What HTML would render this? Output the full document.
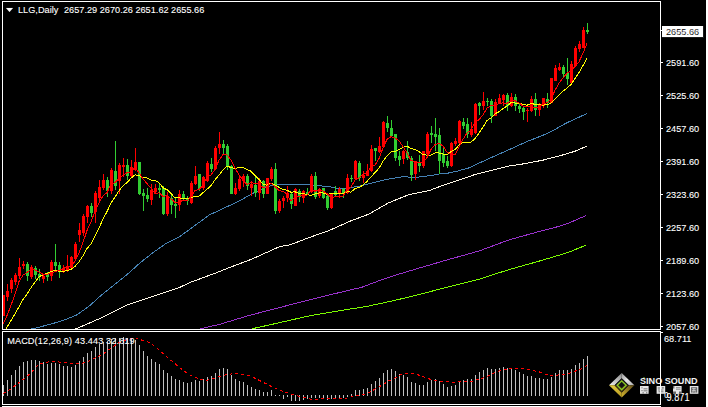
<!DOCTYPE html>
<html><head><meta charset="utf-8"><style>
html,body{margin:0;padding:0;background:#000;width:708px;height:407px;overflow:hidden;position:relative}
</style></head><body>
<svg width="708" height="407" viewBox="0 0 708 407" style="position:absolute;left:0;top:0">
<defs><clipPath id="cm"><rect x="3" y="2" width="657" height="327"/></clipPath><clipPath id="cd"><rect x="3" y="332" width="657" height="72"/></clipPath></defs>
<rect x="0" y="0" width="708" height="407" fill="#000"/>
<g clip-path="url(#cm)" shape-rendering="crispEdges">
<polyline points="245.0,331.0 253.8,328.4 279.0,322.8 308.7,316.0 338.3,310.9 368.0,306.2 397.7,299.7 421.1,294.0 449.3,286.6 479.0,279.2 508.7,269.7 538.3,261.4 568.0,252.5 586.4,245.0" fill="none" stroke="#7cfc00" stroke-width="1" />
<polyline points="195.0,331.0 201.9,328.4 219.7,324.3 249.3,315.4 279.0,307.7 308.7,300.0 338.3,292.8 362.0,287.2 379.9,280.4 397.7,274.5 419.7,267.9 449.3,259.3 479.0,251.0 508.7,240.0 538.3,231.7 552.3,228.3 568.0,223.4 586.4,215.4" fill="none" stroke="#9932cc" stroke-width="1" />
<polyline points="70.0,331.0 76.3,328.7 101.7,317.7 114.4,311.4 127.1,305.0 139.8,300.7 152.6,296.6 165.3,292.3 180.0,287.2 190.0,282.5 219.7,271.5 228.8,267.8 250.9,259.5 279.7,246.6 290.0,244.9 309.8,237.3 329.5,230.4 349.3,221.5 369.1,214.0 388.9,202.7 408.6,194.8 430.0,190.3 440.0,186.4 457.2,180.7 474.4,174.7 491.5,170.4 508.7,166.1 525.9,163.5 543.1,160.1 559.9,155.8 574.6,151.4 586.6,146.2" fill="none" stroke="#fff8e8" stroke-width="1" />
<polyline points="20.0,331.0 33.0,328.7 50.9,324.1 63.6,320.3 76.3,315.2 89.0,306.3 101.7,294.8 114.4,284.7 127.1,274.5 139.8,263.1 152.6,252.9 165.3,244.0 180.0,236.4 209.3,215.0 239.0,201.1 253.8,192.8 268.7,186.3 277.6,184.5 298.3,184.4 310.0,184.3 311.0,185.3 321.0,185.5 323.0,186.4 330.0,186.6 332.0,187.6 334.0,187.7 336.0,188.6 342.0,188.5 350.0,187.5 359.2,186.3 373.5,182.7 387.7,179.2 402.0,176.8 416.2,177.3 430.5,175.6 440.0,173.8 448.6,173.0 457.2,171.2 469.2,167.8 474.4,165.2 491.5,157.5 508.7,149.8 525.9,142.0 543.1,135.2 552.5,130.9 566.4,123.0 586.6,113.7" fill="none" stroke="#4682b4" stroke-width="1" />
<rect x="3" y="295" width="1" height="21" fill="#ff0000"/>
<rect x="2" y="295" width="3" height="21" fill="#ff0000"/>
<rect x="7" y="284" width="1" height="17" fill="#ff0000"/>
<rect x="6" y="291" width="3" height="6" fill="#ff0000"/>
<rect x="11" y="278" width="1" height="15" fill="#ff0000"/>
<rect x="10" y="280" width="3" height="9" fill="#ff0000"/>
<rect x="15" y="273" width="1" height="12" fill="#ff0000"/>
<rect x="14" y="275" width="3" height="7" fill="#ff0000"/>
<rect x="19" y="258" width="1" height="21" fill="#ff0000"/>
<rect x="18" y="267" width="3" height="9" fill="#ff0000"/>
<rect x="23" y="261" width="1" height="8" fill="#ff0000"/>
<rect x="22" y="264" width="3" height="2" fill="#ff0000"/>
<rect x="27" y="262" width="1" height="19" fill="#32cd32"/>
<rect x="26" y="264" width="3" height="12" fill="#32cd32"/>
<rect x="31" y="265" width="1" height="14" fill="#ff0000"/>
<rect x="30" y="267" width="3" height="10" fill="#ff0000"/>
<rect x="35" y="266" width="1" height="13" fill="#32cd32"/>
<rect x="34" y="268" width="3" height="7" fill="#32cd32"/>
<rect x="39" y="269" width="1" height="12" fill="#32cd32"/>
<rect x="38" y="274" width="3" height="3" fill="#32cd32"/>
<rect x="43" y="274" width="1" height="9" fill="#ff0000"/>
<rect x="42" y="276" width="3" height="3" fill="#ff0000"/>
<rect x="47" y="272" width="1" height="9" fill="#32cd32"/>
<rect x="46" y="274" width="3" height="3" fill="#32cd32"/>
<rect x="51" y="260" width="1" height="21" fill="#ff0000"/>
<rect x="50" y="262" width="3" height="14" fill="#ff0000"/>
<rect x="55" y="244" width="1" height="28" fill="#32cd32"/>
<rect x="54" y="262" width="3" height="4" fill="#32cd32"/>
<rect x="59" y="262" width="1" height="16" fill="#32cd32"/>
<rect x="58" y="265" width="3" height="7" fill="#32cd32"/>
<rect x="63" y="265" width="1" height="8" fill="#ff0000"/>
<rect x="62" y="268" width="3" height="3" fill="#ff0000"/>
<rect x="67" y="255" width="1" height="17" fill="#ff0000"/>
<rect x="66" y="266" width="3" height="5" fill="#ff0000"/>
<rect x="71" y="256" width="1" height="13" fill="#ff0000"/>
<rect x="70" y="257" width="3" height="11" fill="#ff0000"/>
<rect x="75" y="242" width="1" height="18" fill="#ff0000"/>
<rect x="74" y="244" width="3" height="15" fill="#ff0000"/>
<rect x="79" y="223" width="1" height="19" fill="#ff0000"/>
<rect x="78" y="230" width="3" height="5" fill="#ff0000"/>
<rect x="83" y="214" width="1" height="22" fill="#ff0000"/>
<rect x="82" y="216" width="3" height="17" fill="#ff0000"/>
<rect x="87" y="205" width="1" height="18" fill="#ff0000"/>
<rect x="86" y="206" width="3" height="11" fill="#ff0000"/>
<rect x="91" y="203" width="1" height="14" fill="#32cd32"/>
<rect x="90" y="206" width="3" height="7" fill="#32cd32"/>
<rect x="95" y="191" width="1" height="32" fill="#ff0000"/>
<rect x="94" y="193" width="3" height="19" fill="#ff0000"/>
<rect x="99" y="180" width="1" height="21" fill="#ff0000"/>
<rect x="98" y="187" width="3" height="11" fill="#ff0000"/>
<rect x="103" y="174" width="1" height="16" fill="#ff0000"/>
<rect x="102" y="180" width="3" height="8" fill="#ff0000"/>
<rect x="107" y="177" width="1" height="20" fill="#32cd32"/>
<rect x="106" y="180" width="3" height="11" fill="#32cd32"/>
<rect x="111" y="168" width="1" height="26" fill="#ff0000"/>
<rect x="110" y="170" width="3" height="21" fill="#ff0000"/>
<rect x="115" y="141" width="1" height="49" fill="#32cd32"/>
<rect x="114" y="171" width="3" height="15" fill="#32cd32"/>
<rect x="119" y="163" width="1" height="31" fill="#ff0000"/>
<rect x="118" y="165" width="3" height="16" fill="#ff0000"/>
<rect x="123" y="158" width="1" height="19" fill="#ff0000"/>
<rect x="122" y="165" width="3" height="2" fill="#ff0000"/>
<rect x="127" y="159" width="1" height="21" fill="#32cd32"/>
<rect x="126" y="165" width="3" height="11" fill="#32cd32"/>
<rect x="131" y="160" width="1" height="18" fill="#ff0000"/>
<rect x="130" y="167" width="3" height="9" fill="#ff0000"/>
<rect x="135" y="148" width="1" height="23" fill="#ff0000"/>
<rect x="134" y="162" width="3" height="8" fill="#ff0000"/>
<rect x="139" y="162" width="1" height="33" fill="#32cd32"/>
<rect x="138" y="162" width="3" height="32" fill="#32cd32"/>
<rect x="143" y="189" width="1" height="22" fill="#32cd32"/>
<rect x="142" y="193" width="3" height="3" fill="#32cd32"/>
<rect x="147" y="188" width="1" height="14" fill="#32cd32"/>
<rect x="146" y="195" width="3" height="4" fill="#32cd32"/>
<rect x="151" y="184" width="1" height="21" fill="#ff0000"/>
<rect x="150" y="190" width="3" height="10" fill="#ff0000"/>
<rect x="155" y="184" width="1" height="10" fill="#ff0000"/>
<rect x="154" y="188" width="3" height="4" fill="#ff0000"/>
<rect x="159" y="183" width="1" height="15" fill="#32cd32"/>
<rect x="158" y="188" width="3" height="2" fill="#32cd32"/>
<rect x="163" y="186" width="1" height="29" fill="#32cd32"/>
<rect x="162" y="188" width="3" height="26" fill="#32cd32"/>
<rect x="167" y="192" width="1" height="24" fill="#ff0000"/>
<rect x="166" y="196" width="3" height="18" fill="#ff0000"/>
<rect x="171" y="194" width="1" height="20" fill="#32cd32"/>
<rect x="170" y="198" width="3" height="7" fill="#32cd32"/>
<rect x="175" y="198" width="1" height="20" fill="#32cd32"/>
<rect x="174" y="204" width="3" height="2" fill="#32cd32"/>
<rect x="179" y="190" width="1" height="21" fill="#ff0000"/>
<rect x="178" y="194" width="3" height="11" fill="#ff0000"/>
<rect x="183" y="191" width="1" height="10" fill="#32cd32"/>
<rect x="182" y="194" width="3" height="5" fill="#32cd32"/>
<rect x="187" y="196" width="1" height="9" fill="#32cd32"/>
<rect x="186" y="198" width="3" height="3" fill="#32cd32"/>
<rect x="191" y="181" width="1" height="23" fill="#ff0000"/>
<rect x="190" y="183" width="3" height="20" fill="#ff0000"/>
<rect x="195" y="166" width="1" height="19" fill="#ff0000"/>
<rect x="194" y="176" width="3" height="8" fill="#ff0000"/>
<rect x="199" y="174" width="1" height="17" fill="#32cd32"/>
<rect x="198" y="174" width="3" height="15" fill="#32cd32"/>
<rect x="203" y="176" width="1" height="14" fill="#ff0000"/>
<rect x="202" y="177" width="3" height="11" fill="#ff0000"/>
<rect x="207" y="161" width="1" height="21" fill="#ff0000"/>
<rect x="206" y="163" width="3" height="18" fill="#ff0000"/>
<rect x="211" y="158" width="1" height="14" fill="#32cd32"/>
<rect x="210" y="164" width="3" height="5" fill="#32cd32"/>
<rect x="215" y="146" width="1" height="24" fill="#ff0000"/>
<rect x="214" y="148" width="3" height="21" fill="#ff0000"/>
<rect x="219" y="132" width="1" height="22" fill="#ff0000"/>
<rect x="218" y="144" width="3" height="4" fill="#ff0000"/>
<rect x="223" y="140" width="1" height="14" fill="#32cd32"/>
<rect x="222" y="144" width="3" height="4" fill="#32cd32"/>
<rect x="227" y="144" width="1" height="26" fill="#32cd32"/>
<rect x="226" y="146" width="3" height="20" fill="#32cd32"/>
<rect x="231" y="165" width="1" height="29" fill="#32cd32"/>
<rect x="230" y="166" width="3" height="28" fill="#32cd32"/>
<rect x="235" y="183" width="1" height="12" fill="#ff0000"/>
<rect x="234" y="188" width="3" height="6" fill="#ff0000"/>
<rect x="239" y="176" width="1" height="15" fill="#ff0000"/>
<rect x="238" y="179" width="3" height="10" fill="#ff0000"/>
<rect x="243" y="174" width="1" height="13" fill="#ff0000"/>
<rect x="242" y="176" width="3" height="5" fill="#ff0000"/>
<rect x="247" y="174" width="1" height="16" fill="#32cd32"/>
<rect x="246" y="176" width="3" height="10" fill="#32cd32"/>
<rect x="251" y="181" width="1" height="15" fill="#ff0000"/>
<rect x="250" y="184" width="3" height="4" fill="#ff0000"/>
<rect x="255" y="177" width="1" height="20" fill="#32cd32"/>
<rect x="254" y="185" width="3" height="8" fill="#32cd32"/>
<rect x="259" y="178" width="1" height="22" fill="#ff0000"/>
<rect x="258" y="181" width="3" height="12" fill="#ff0000"/>
<rect x="263" y="180" width="1" height="18" fill="#32cd32"/>
<rect x="262" y="181" width="3" height="13" fill="#32cd32"/>
<rect x="267" y="178" width="1" height="16" fill="#ff0000"/>
<rect x="266" y="178" width="3" height="16" fill="#ff0000"/>
<rect x="271" y="167" width="1" height="14" fill="#ff0000"/>
<rect x="270" y="169" width="3" height="10" fill="#ff0000"/>
<rect x="275" y="163" width="1" height="51" fill="#32cd32"/>
<rect x="274" y="169" width="3" height="42" fill="#32cd32"/>
<rect x="279" y="199" width="1" height="14" fill="#ff0000"/>
<rect x="278" y="201" width="3" height="10" fill="#ff0000"/>
<rect x="283" y="196" width="1" height="12" fill="#ff0000"/>
<rect x="282" y="198" width="3" height="3" fill="#ff0000"/>
<rect x="287" y="186" width="1" height="16" fill="#ff0000"/>
<rect x="286" y="193" width="3" height="5" fill="#ff0000"/>
<rect x="291" y="192" width="1" height="17" fill="#32cd32"/>
<rect x="290" y="194" width="3" height="10" fill="#32cd32"/>
<rect x="295" y="188" width="1" height="18" fill="#ff0000"/>
<rect x="294" y="189" width="3" height="17" fill="#ff0000"/>
<rect x="299" y="189" width="1" height="13" fill="#32cd32"/>
<rect x="298" y="191" width="3" height="6" fill="#32cd32"/>
<rect x="303" y="190" width="1" height="13" fill="#ff0000"/>
<rect x="302" y="191" width="3" height="7" fill="#ff0000"/>
<rect x="307" y="188" width="1" height="7" fill="#32cd32"/>
<rect x="306" y="192" width="3" height="2" fill="#32cd32"/>
<rect x="311" y="174" width="1" height="19" fill="#ff0000"/>
<rect x="310" y="176" width="3" height="16" fill="#ff0000"/>
<rect x="315" y="172" width="1" height="27" fill="#32cd32"/>
<rect x="314" y="176" width="3" height="21" fill="#32cd32"/>
<rect x="319" y="188" width="1" height="10" fill="#ff0000"/>
<rect x="318" y="189" width="3" height="7" fill="#ff0000"/>
<rect x="323" y="188" width="1" height="11" fill="#32cd32"/>
<rect x="322" y="188" width="3" height="10" fill="#32cd32"/>
<rect x="327" y="195" width="1" height="15" fill="#32cd32"/>
<rect x="326" y="196" width="3" height="12" fill="#32cd32"/>
<rect x="331" y="194" width="1" height="15" fill="#ff0000"/>
<rect x="330" y="194" width="3" height="14" fill="#ff0000"/>
<rect x="335" y="186" width="1" height="10" fill="#32cd32"/>
<rect x="334" y="191" width="3" height="4" fill="#32cd32"/>
<rect x="339" y="187" width="1" height="11" fill="#ff0000"/>
<rect x="338" y="189" width="3" height="5" fill="#ff0000"/>
<rect x="343" y="188" width="1" height="10" fill="#32cd32"/>
<rect x="342" y="189" width="3" height="5" fill="#32cd32"/>
<rect x="347" y="174" width="1" height="20" fill="#ff0000"/>
<rect x="346" y="178" width="3" height="15" fill="#ff0000"/>
<rect x="351" y="175" width="1" height="7" fill="#32cd32"/>
<rect x="350" y="178" width="3" height="1" fill="#32cd32"/>
<rect x="355" y="160" width="1" height="20" fill="#ff0000"/>
<rect x="354" y="161" width="3" height="18" fill="#ff0000"/>
<rect x="359" y="161" width="1" height="20" fill="#32cd32"/>
<rect x="358" y="163" width="3" height="15" fill="#32cd32"/>
<rect x="363" y="171" width="1" height="12" fill="#ff0000"/>
<rect x="362" y="175" width="3" height="3" fill="#ff0000"/>
<rect x="367" y="164" width="1" height="12" fill="#ff0000"/>
<rect x="366" y="171" width="3" height="5" fill="#ff0000"/>
<rect x="371" y="145" width="1" height="27" fill="#ff0000"/>
<rect x="370" y="149" width="3" height="22" fill="#ff0000"/>
<rect x="375" y="148" width="1" height="13" fill="#32cd32"/>
<rect x="374" y="148" width="3" height="3" fill="#32cd32"/>
<rect x="379" y="137" width="1" height="16" fill="#ff0000"/>
<rect x="378" y="146" width="3" height="6" fill="#ff0000"/>
<rect x="383" y="121" width="1" height="27" fill="#ff0000"/>
<rect x="382" y="122" width="3" height="25" fill="#ff0000"/>
<rect x="387" y="116" width="1" height="16" fill="#32cd32"/>
<rect x="386" y="123" width="3" height="5" fill="#32cd32"/>
<rect x="391" y="120" width="1" height="17" fill="#32cd32"/>
<rect x="390" y="128" width="3" height="8" fill="#32cd32"/>
<rect x="395" y="134" width="1" height="27" fill="#32cd32"/>
<rect x="394" y="134" width="3" height="24" fill="#32cd32"/>
<rect x="399" y="151" width="1" height="15" fill="#32cd32"/>
<rect x="398" y="156" width="3" height="4" fill="#32cd32"/>
<rect x="403" y="150" width="1" height="14" fill="#ff0000"/>
<rect x="402" y="151" width="3" height="8" fill="#ff0000"/>
<rect x="407" y="141" width="1" height="19" fill="#32cd32"/>
<rect x="406" y="152" width="3" height="6" fill="#32cd32"/>
<rect x="411" y="156" width="1" height="25" fill="#32cd32"/>
<rect x="410" y="158" width="3" height="17" fill="#32cd32"/>
<rect x="415" y="161" width="1" height="19" fill="#ff0000"/>
<rect x="414" y="162" width="3" height="12" fill="#ff0000"/>
<rect x="419" y="155" width="1" height="17" fill="#32cd32"/>
<rect x="418" y="163" width="3" height="3" fill="#32cd32"/>
<rect x="423" y="151" width="1" height="17" fill="#ff0000"/>
<rect x="422" y="151" width="3" height="15" fill="#ff0000"/>
<rect x="427" y="132" width="1" height="26" fill="#ff0000"/>
<rect x="426" y="134" width="3" height="20" fill="#ff0000"/>
<rect x="431" y="126" width="1" height="17" fill="#32cd32"/>
<rect x="430" y="133" width="3" height="2" fill="#32cd32"/>
<rect x="435" y="118" width="1" height="33" fill="#32cd32"/>
<rect x="434" y="134" width="3" height="3" fill="#32cd32"/>
<rect x="439" y="128" width="1" height="46" fill="#32cd32"/>
<rect x="438" y="135" width="3" height="26" fill="#32cd32"/>
<rect x="443" y="148" width="1" height="19" fill="#32cd32"/>
<rect x="442" y="154" width="3" height="9" fill="#32cd32"/>
<rect x="447" y="156" width="1" height="12" fill="#32cd32"/>
<rect x="446" y="161" width="3" height="5" fill="#32cd32"/>
<rect x="451" y="142" width="1" height="25" fill="#ff0000"/>
<rect x="450" y="143" width="3" height="23" fill="#ff0000"/>
<rect x="455" y="138" width="1" height="8" fill="#ff0000"/>
<rect x="454" y="141" width="3" height="3" fill="#ff0000"/>
<rect x="459" y="120" width="1" height="24" fill="#ff0000"/>
<rect x="458" y="121" width="3" height="22" fill="#ff0000"/>
<rect x="463" y="118" width="1" height="11" fill="#32cd32"/>
<rect x="462" y="122" width="3" height="4" fill="#32cd32"/>
<rect x="467" y="118" width="1" height="20" fill="#32cd32"/>
<rect x="466" y="124" width="3" height="10" fill="#32cd32"/>
<rect x="471" y="122" width="1" height="15" fill="#ff0000"/>
<rect x="470" y="129" width="3" height="6" fill="#ff0000"/>
<rect x="475" y="103" width="1" height="31" fill="#ff0000"/>
<rect x="474" y="104" width="3" height="29" fill="#ff0000"/>
<rect x="479" y="102" width="1" height="13" fill="#32cd32"/>
<rect x="478" y="103" width="3" height="3" fill="#32cd32"/>
<rect x="483" y="92" width="1" height="18" fill="#ff0000"/>
<rect x="482" y="101" width="3" height="5" fill="#ff0000"/>
<rect x="487" y="98" width="1" height="8" fill="#32cd32"/>
<rect x="486" y="101" width="3" height="1" fill="#32cd32"/>
<rect x="491" y="99" width="1" height="24" fill="#32cd32"/>
<rect x="490" y="101" width="3" height="15" fill="#32cd32"/>
<rect x="495" y="99" width="1" height="17" fill="#ff0000"/>
<rect x="494" y="102" width="3" height="14" fill="#ff0000"/>
<rect x="499" y="94" width="1" height="10" fill="#ff0000"/>
<rect x="498" y="98" width="3" height="5" fill="#ff0000"/>
<rect x="503" y="94" width="1" height="12" fill="#ff0000"/>
<rect x="502" y="95" width="3" height="5" fill="#ff0000"/>
<rect x="507" y="93" width="1" height="18" fill="#32cd32"/>
<rect x="506" y="95" width="3" height="11" fill="#32cd32"/>
<rect x="511" y="93" width="1" height="14" fill="#ff0000"/>
<rect x="510" y="97" width="3" height="9" fill="#ff0000"/>
<rect x="515" y="94" width="1" height="17" fill="#32cd32"/>
<rect x="514" y="97" width="3" height="9" fill="#32cd32"/>
<rect x="519" y="104" width="1" height="9" fill="#32cd32"/>
<rect x="518" y="106" width="3" height="3" fill="#32cd32"/>
<rect x="523" y="107" width="1" height="13" fill="#32cd32"/>
<rect x="522" y="108" width="3" height="4" fill="#32cd32"/>
<rect x="527" y="108" width="1" height="14" fill="#ff0000"/>
<rect x="526" y="110" width="3" height="1" fill="#ff0000"/>
<rect x="531" y="96" width="1" height="16" fill="#ff0000"/>
<rect x="530" y="99" width="3" height="12" fill="#ff0000"/>
<rect x="535" y="93" width="1" height="23" fill="#32cd32"/>
<rect x="534" y="99" width="3" height="11" fill="#32cd32"/>
<rect x="539" y="103" width="1" height="13" fill="#ff0000"/>
<rect x="538" y="104" width="3" height="6" fill="#ff0000"/>
<rect x="543" y="98" width="1" height="10" fill="#ff0000"/>
<rect x="542" y="98" width="3" height="8" fill="#ff0000"/>
<rect x="547" y="93" width="1" height="15" fill="#32cd32"/>
<rect x="546" y="99" width="3" height="4" fill="#32cd32"/>
<rect x="551" y="78" width="1" height="25" fill="#ff0000"/>
<rect x="550" y="78" width="3" height="25" fill="#ff0000"/>
<rect x="555" y="65" width="1" height="16" fill="#ff0000"/>
<rect x="554" y="68" width="3" height="13" fill="#ff0000"/>
<rect x="559" y="63" width="1" height="8" fill="#ff0000"/>
<rect x="558" y="67" width="3" height="3" fill="#ff0000"/>
<rect x="563" y="65" width="1" height="13" fill="#32cd32"/>
<rect x="562" y="67" width="3" height="7" fill="#32cd32"/>
<rect x="567" y="58" width="1" height="27" fill="#32cd32"/>
<rect x="566" y="73" width="3" height="6" fill="#32cd32"/>
<rect x="571" y="61" width="1" height="23" fill="#ff0000"/>
<rect x="570" y="64" width="3" height="19" fill="#ff0000"/>
<rect x="575" y="46" width="1" height="21" fill="#ff0000"/>
<rect x="574" y="48" width="3" height="18" fill="#ff0000"/>
<rect x="579" y="41" width="1" height="11" fill="#ff0000"/>
<rect x="578" y="44" width="3" height="5" fill="#ff0000"/>
<rect x="583" y="27" width="1" height="21" fill="#ff0000"/>
<rect x="582" y="30" width="3" height="18" fill="#ff0000"/>
<rect x="587" y="23" width="1" height="11" fill="#32cd32"/>
<rect x="586" y="30" width="3" height="2" fill="#32cd32"/>
<polyline points="3.0,333.2 7.0,327.2 11.0,320.5 15.0,313.8 19.0,306.7 23.0,299.6 27.0,294.0 31.0,287.7 35.0,282.1 39.0,276.7 43.0,274.8 47.0,273.4 51.0,271.6 55.0,270.6 59.0,271.1 63.0,271.6 67.0,270.5 71.0,269.5 75.0,266.4 79.0,261.7 83.0,255.7 87.0,248.6 91.0,243.7 95.0,236.4 99.0,227.9 103.0,219.1 107.0,211.6 111.0,202.9 115.0,197.1 119.0,190.7 123.0,185.7 127.0,182.7 131.0,178.1 135.0,174.9 139.0,175.6 143.0,177.3 147.0,178.1 151.0,180.1 155.0,180.3 159.0,182.8 163.0,187.7 167.0,189.7 171.0,193.5 175.0,197.9 179.0,197.9 183.0,198.2 187.0,198.4 191.0,197.7 195.0,196.4 199.0,196.3 203.0,192.6 207.0,189.3 211.0,185.7 215.0,179.9 219.0,175.0 223.0,169.9 227.0,166.3 231.0,167.4 235.0,168.6 239.0,167.6 243.0,167.5 247.0,169.7 251.0,171.2 255.0,175.7 259.0,179.4 263.0,184.0 267.0,185.3 271.0,182.8 275.0,185.1 279.0,187.3 283.0,189.5 287.0,190.2 291.0,192.2 295.0,191.8 299.0,193.4 303.0,193.1 307.0,194.7 311.0,195.4 315.0,194.0 319.0,192.9 323.0,192.9 327.0,194.5 331.0,193.5 335.0,194.0 339.0,193.3 343.0,193.5 347.0,191.8 351.0,192.1 355.0,188.5 359.0,187.4 363.0,185.1 367.0,181.4 371.0,176.9 375.0,172.6 379.0,168.2 383.0,161.1 387.0,156.1 391.0,151.8 395.0,151.5 399.0,149.6 403.0,147.3 407.0,146.0 411.0,148.6 415.0,149.6 419.0,151.6 423.0,154.6 427.0,155.1 431.0,155.0 435.0,152.9 439.0,153.0 443.0,154.1 447.0,154.9 451.0,151.7 455.0,149.6 459.0,145.1 463.0,142.6 467.0,142.6 471.0,142.1 475.0,138.7 479.0,133.2 483.0,127.0 487.0,120.6 491.0,117.8 495.0,113.9 499.0,111.7 503.0,108.7 507.0,105.9 511.0,102.7 515.0,103.0 519.0,103.3 523.0,104.4 527.0,105.2 531.0,103.5 535.0,104.3 539.0,104.8 543.0,105.1 547.0,104.8 551.0,102.9 555.0,99.1 559.0,94.9 563.0,91.1 567.0,88.0 571.0,84.5 575.0,78.4 579.0,72.4 583.0,65.5 587.0,58.4" fill="none" stroke="#ffff00" stroke-width="1" />
<polyline points="-17.0,342.6 -13.0,338.8 -9.0,335.6 -5.0,333.3 -1.0,331.9 3.0,323.9 7.0,315.6 11.0,305.4 15.0,294.3 19.0,281.5 23.0,275.2 27.0,272.4 31.0,269.9 35.0,269.9 39.0,271.9 43.0,274.3 47.0,274.4 51.0,273.3 55.0,271.4 59.0,270.4 63.0,268.9 67.0,266.6 71.0,265.7 75.0,261.3 79.0,252.9 83.0,242.4 87.0,230.6 91.0,221.7 95.0,211.5 99.0,202.9 103.0,195.8 107.0,192.7 111.0,184.1 115.0,182.8 119.0,178.4 123.0,175.5 127.0,172.6 131.0,172.0 135.0,167.1 139.0,172.8 143.0,179.0 147.0,183.6 151.0,188.2 155.0,193.5 159.0,192.8 163.0,196.3 167.0,195.7 171.0,198.8 175.0,202.3 179.0,203.0 183.0,200.0 187.0,201.0 191.0,196.5 195.0,190.5 199.0,189.6 203.0,185.2 207.0,177.6 211.0,174.9 215.0,169.3 219.0,160.3 223.0,154.6 227.0,155.0 231.0,159.9 235.0,167.9 239.0,174.9 243.0,180.4 247.0,184.4 251.0,182.5 255.0,183.5 259.0,183.9 263.0,187.6 267.0,186.2 271.0,183.2 275.0,186.7 279.0,190.6 283.0,191.3 287.0,194.1 291.0,201.2 295.0,196.9 299.0,196.2 303.0,194.9 307.0,195.2 311.0,189.6 315.0,191.2 319.0,189.6 323.0,190.9 327.0,193.7 331.0,197.3 335.0,196.9 339.0,196.9 343.0,196.0 347.0,189.9 351.0,186.9 355.0,180.1 359.0,177.9 363.0,174.2 367.0,172.9 371.0,166.9 375.0,165.1 379.0,158.5 383.0,147.9 387.0,139.4 391.0,136.6 395.0,137.9 399.0,140.8 403.0,146.7 407.0,152.7 411.0,160.5 415.0,161.4 419.0,162.5 423.0,162.5 427.0,157.5 431.0,149.5 435.0,144.5 439.0,143.5 443.0,145.8 447.0,152.3 451.0,153.9 455.0,154.8 459.0,146.8 463.0,139.3 467.0,132.9 471.0,130.2 475.0,122.6 479.0,119.7 483.0,114.7 487.0,108.2 491.0,105.5 495.0,105.2 499.0,103.7 503.0,102.7 507.0,103.6 511.0,99.9 515.0,100.8 519.0,102.9 523.0,106.2 527.0,106.8 531.0,107.1 535.0,107.8 539.0,106.8 543.0,104.1 547.0,102.8 551.0,98.7 555.0,90.4 559.0,83.0 563.0,78.0 567.0,73.2 571.0,70.4 575.0,66.3 579.0,61.8 583.0,53.1 587.0,43.6" fill="none" stroke="#ff0000" stroke-width="1" />
</g>
<g clip-path="url(#cd)" shape-rendering="crispEdges">
<rect x="3" y="385" width="1" height="11" fill="#c0c0c0"/>
<rect x="7" y="380" width="1" height="16" fill="#c0c0c0"/>
<rect x="11" y="375" width="1" height="21" fill="#c0c0c0"/>
<rect x="15" y="370" width="1" height="26" fill="#c0c0c0"/>
<rect x="19" y="366" width="1" height="30" fill="#c0c0c0"/>
<rect x="23" y="362" width="1" height="34" fill="#c0c0c0"/>
<rect x="27" y="361" width="1" height="35" fill="#c0c0c0"/>
<rect x="31" y="360" width="1" height="36" fill="#c0c0c0"/>
<rect x="35" y="360" width="1" height="36" fill="#c0c0c0"/>
<rect x="39" y="361" width="1" height="35" fill="#c0c0c0"/>
<rect x="43" y="362" width="1" height="34" fill="#c0c0c0"/>
<rect x="47" y="364" width="1" height="32" fill="#c0c0c0"/>
<rect x="51" y="363" width="1" height="33" fill="#c0c0c0"/>
<rect x="55" y="363" width="1" height="33" fill="#c0c0c0"/>
<rect x="59" y="364" width="1" height="32" fill="#c0c0c0"/>
<rect x="63" y="366" width="1" height="30" fill="#c0c0c0"/>
<rect x="67" y="366" width="1" height="30" fill="#c0c0c0"/>
<rect x="71" y="367" width="1" height="29" fill="#c0c0c0"/>
<rect x="75" y="365" width="1" height="31" fill="#c0c0c0"/>
<rect x="79" y="361" width="1" height="35" fill="#c0c0c0"/>
<rect x="83" y="357" width="1" height="39" fill="#c0c0c0"/>
<rect x="87" y="353" width="1" height="43" fill="#c0c0c0"/>
<rect x="91" y="351" width="1" height="45" fill="#c0c0c0"/>
<rect x="95" y="347" width="1" height="49" fill="#c0c0c0"/>
<rect x="99" y="344" width="1" height="52" fill="#c0c0c0"/>
<rect x="103" y="342" width="1" height="54" fill="#c0c0c0"/>
<rect x="107" y="341" width="1" height="55" fill="#c0c0c0"/>
<rect x="111" y="339" width="1" height="57" fill="#c0c0c0"/>
<rect x="115" y="338" width="1" height="58" fill="#c0c0c0"/>
<rect x="119" y="338" width="1" height="58" fill="#c0c0c0"/>
<rect x="123" y="337" width="1" height="59" fill="#c0c0c0"/>
<rect x="127" y="338" width="1" height="58" fill="#c0c0c0"/>
<rect x="131" y="338" width="1" height="58" fill="#c0c0c0"/>
<rect x="135" y="340" width="1" height="56" fill="#c0c0c0"/>
<rect x="139" y="345" width="1" height="51" fill="#c0c0c0"/>
<rect x="143" y="351" width="1" height="45" fill="#c0c0c0"/>
<rect x="147" y="356" width="1" height="40" fill="#c0c0c0"/>
<rect x="151" y="359" width="1" height="37" fill="#c0c0c0"/>
<rect x="155" y="362" width="1" height="34" fill="#c0c0c0"/>
<rect x="159" y="364" width="1" height="32" fill="#c0c0c0"/>
<rect x="163" y="370" width="1" height="26" fill="#c0c0c0"/>
<rect x="167" y="373" width="1" height="23" fill="#c0c0c0"/>
<rect x="171" y="376" width="1" height="20" fill="#c0c0c0"/>
<rect x="175" y="379" width="1" height="17" fill="#c0c0c0"/>
<rect x="179" y="380" width="1" height="16" fill="#c0c0c0"/>
<rect x="183" y="382" width="1" height="14" fill="#c0c0c0"/>
<rect x="187" y="383" width="1" height="13" fill="#c0c0c0"/>
<rect x="191" y="382" width="1" height="14" fill="#c0c0c0"/>
<rect x="195" y="380" width="1" height="16" fill="#c0c0c0"/>
<rect x="199" y="381" width="1" height="15" fill="#c0c0c0"/>
<rect x="203" y="379" width="1" height="17" fill="#c0c0c0"/>
<rect x="207" y="377" width="1" height="19" fill="#c0c0c0"/>
<rect x="211" y="376" width="1" height="20" fill="#c0c0c0"/>
<rect x="215" y="373" width="1" height="23" fill="#c0c0c0"/>
<rect x="219" y="369" width="1" height="27" fill="#c0c0c0"/>
<rect x="223" y="368" width="1" height="28" fill="#c0c0c0"/>
<rect x="227" y="369" width="1" height="27" fill="#c0c0c0"/>
<rect x="231" y="375" width="1" height="21" fill="#c0c0c0"/>
<rect x="235" y="379" width="1" height="17" fill="#c0c0c0"/>
<rect x="239" y="381" width="1" height="15" fill="#c0c0c0"/>
<rect x="243" y="382" width="1" height="14" fill="#c0c0c0"/>
<rect x="247" y="385" width="1" height="11" fill="#c0c0c0"/>
<rect x="251" y="387" width="1" height="9" fill="#c0c0c0"/>
<rect x="255" y="389" width="1" height="7" fill="#c0c0c0"/>
<rect x="259" y="390" width="1" height="6" fill="#c0c0c0"/>
<rect x="263" y="392" width="1" height="4" fill="#c0c0c0"/>
<rect x="267" y="392" width="1" height="4" fill="#c0c0c0"/>
<rect x="271" y="390" width="1" height="6" fill="#c0c0c0"/>
<rect x="275" y="395" width="1" height="1" fill="#c0c0c0"/>
<rect x="279" y="395" width="1" height="1" fill="#c0c0c0"/>
<rect x="283" y="395" width="1" height="4" fill="#c0c0c0"/>
<rect x="287" y="395" width="1" height="2" fill="#c0c0c0"/>
<rect x="291" y="395" width="1" height="6" fill="#c0c0c0"/>
<rect x="295" y="395" width="1" height="6" fill="#c0c0c0"/>
<rect x="299" y="395" width="1" height="6" fill="#c0c0c0"/>
<rect x="303" y="395" width="1" height="5" fill="#c0c0c0"/>
<rect x="307" y="395" width="1" height="4" fill="#c0c0c0"/>
<rect x="311" y="395" width="1" height="3" fill="#c0c0c0"/>
<rect x="315" y="395" width="1" height="3" fill="#c0c0c0"/>
<rect x="319" y="395" width="1" height="3" fill="#c0c0c0"/>
<rect x="323" y="395" width="1" height="3" fill="#c0c0c0"/>
<rect x="327" y="395" width="1" height="5" fill="#c0c0c0"/>
<rect x="331" y="395" width="1" height="4" fill="#c0c0c0"/>
<rect x="335" y="395" width="1" height="4" fill="#c0c0c0"/>
<rect x="339" y="395" width="1" height="4" fill="#c0c0c0"/>
<rect x="343" y="395" width="1" height="3" fill="#c0c0c0"/>
<rect x="347" y="395" width="1" height="2" fill="#c0c0c0"/>
<rect x="351" y="394" width="1" height="2" fill="#c0c0c0"/>
<rect x="355" y="390" width="1" height="6" fill="#c0c0c0"/>
<rect x="359" y="390" width="1" height="6" fill="#c0c0c0"/>
<rect x="363" y="389" width="1" height="7" fill="#c0c0c0"/>
<rect x="367" y="388" width="1" height="8" fill="#c0c0c0"/>
<rect x="371" y="384" width="1" height="12" fill="#c0c0c0"/>
<rect x="375" y="381" width="1" height="15" fill="#c0c0c0"/>
<rect x="379" y="378" width="1" height="18" fill="#c0c0c0"/>
<rect x="383" y="373" width="1" height="23" fill="#c0c0c0"/>
<rect x="387" y="370" width="1" height="26" fill="#c0c0c0"/>
<rect x="391" y="369" width="1" height="27" fill="#c0c0c0"/>
<rect x="395" y="371" width="1" height="25" fill="#c0c0c0"/>
<rect x="399" y="374" width="1" height="22" fill="#c0c0c0"/>
<rect x="403" y="375" width="1" height="21" fill="#c0c0c0"/>
<rect x="407" y="377" width="1" height="19" fill="#c0c0c0"/>
<rect x="411" y="382" width="1" height="14" fill="#c0c0c0"/>
<rect x="415" y="383" width="1" height="13" fill="#c0c0c0"/>
<rect x="419" y="385" width="1" height="11" fill="#c0c0c0"/>
<rect x="423" y="385" width="1" height="11" fill="#c0c0c0"/>
<rect x="427" y="382" width="1" height="14" fill="#c0c0c0"/>
<rect x="431" y="380" width="1" height="16" fill="#c0c0c0"/>
<rect x="435" y="379" width="1" height="17" fill="#c0c0c0"/>
<rect x="439" y="381" width="1" height="15" fill="#c0c0c0"/>
<rect x="443" y="384" width="1" height="12" fill="#c0c0c0"/>
<rect x="447" y="387" width="1" height="9" fill="#c0c0c0"/>
<rect x="451" y="386" width="1" height="10" fill="#c0c0c0"/>
<rect x="455" y="385" width="1" height="11" fill="#c0c0c0"/>
<rect x="459" y="382" width="1" height="14" fill="#c0c0c0"/>
<rect x="463" y="380" width="1" height="16" fill="#c0c0c0"/>
<rect x="467" y="379" width="1" height="17" fill="#c0c0c0"/>
<rect x="471" y="379" width="1" height="17" fill="#c0c0c0"/>
<rect x="475" y="375" width="1" height="21" fill="#c0c0c0"/>
<rect x="479" y="372" width="1" height="24" fill="#c0c0c0"/>
<rect x="483" y="370" width="1" height="26" fill="#c0c0c0"/>
<rect x="487" y="368" width="1" height="28" fill="#c0c0c0"/>
<rect x="491" y="369" width="1" height="27" fill="#c0c0c0"/>
<rect x="495" y="369" width="1" height="27" fill="#c0c0c0"/>
<rect x="499" y="368" width="1" height="28" fill="#c0c0c0"/>
<rect x="503" y="367" width="1" height="29" fill="#c0c0c0"/>
<rect x="507" y="368" width="1" height="28" fill="#c0c0c0"/>
<rect x="511" y="368" width="1" height="28" fill="#c0c0c0"/>
<rect x="515" y="370" width="1" height="26" fill="#c0c0c0"/>
<rect x="519" y="372" width="1" height="24" fill="#c0c0c0"/>
<rect x="523" y="374" width="1" height="22" fill="#c0c0c0"/>
<rect x="527" y="376" width="1" height="20" fill="#c0c0c0"/>
<rect x="531" y="376" width="1" height="20" fill="#c0c0c0"/>
<rect x="535" y="378" width="1" height="18" fill="#c0c0c0"/>
<rect x="539" y="378" width="1" height="18" fill="#c0c0c0"/>
<rect x="543" y="379" width="1" height="17" fill="#c0c0c0"/>
<rect x="547" y="379" width="1" height="17" fill="#c0c0c0"/>
<rect x="551" y="377" width="1" height="19" fill="#c0c0c0"/>
<rect x="555" y="373" width="1" height="23" fill="#c0c0c0"/>
<rect x="559" y="370" width="1" height="26" fill="#c0c0c0"/>
<rect x="563" y="370" width="1" height="26" fill="#c0c0c0"/>
<rect x="567" y="370" width="1" height="26" fill="#c0c0c0"/>
<rect x="571" y="369" width="1" height="27" fill="#c0c0c0"/>
<rect x="575" y="365" width="1" height="31" fill="#c0c0c0"/>
<rect x="579" y="363" width="1" height="33" fill="#c0c0c0"/>
<rect x="583" y="359" width="1" height="37" fill="#c0c0c0"/>
<rect x="587" y="356" width="1" height="40" fill="#c0c0c0"/>
<polyline points="3.0,393.6 10.3,389.3 17.2,384.1 24.0,379.0 30.9,373.0 37.8,365.2 44.7,362.1 55.0,361.8 65.3,362.3 72.2,363.5 82.5,363.2 89.3,360.9 96.2,357.5 103.1,354.0 110.0,348.9 118.6,342.9 127.0,339.5 135.6,338.2 149.4,342.4 159.7,350.3 166.5,356.6 173.4,362.3 183.7,370.9 190.6,375.5 200.9,379.5 207.8,380.2 214.7,378.1 225.0,375.0 234.9,373.3 243.7,374.3 250.6,376.0 257.5,379.5 264.4,382.9 273.4,387.5 280.2,390.3 286.1,392.5 292.9,394.6 298.8,396.3 304.7,397.5 310.7,399.2 317.5,399.2 327.6,398.5 334.4,398.3 341.2,398.3 347.1,398.0 352.2,396.6 358.1,395.4 363.2,394.6 370.0,392.0 375.9,388.6 381.9,385.3 388.6,381.0 393.0,379.0 399.8,375.0 406.7,373.3 415.3,373.8 422.2,376.4 430.8,379.5 441.1,381.2 453.1,382.1 460.0,381.9 468.6,381.2 472.7,381.2 478.7,379.0 485.6,377.3 490.8,374.7 497.6,371.2 506.2,369.5 514.8,368.1 523.4,368.1 530.3,370.0 538.9,371.8 545.8,374.3 552.6,376.0 559.5,374.7 568.1,373.8 575.0,371.2 581.0,368.9 587.2,365.1" fill="none" stroke="#ff0000" stroke-width="1" stroke-dasharray="3,3"/>
</g>
<g shape-rendering="crispEdges" fill="#fff">
<rect x="2" y="1" width="659" height="1"/>
<rect x="2" y="1" width="1" height="329"/>
<rect x="660" y="1" width="1" height="329"/>
<rect x="2" y="329" width="659" height="1"/>
<rect x="2" y="331" width="659" height="1"/>
<rect x="2" y="331" width="1" height="74"/>
<rect x="2" y="404" width="659" height="1"/>
<rect x="2" y="406" width="659" height="1"/>
<rect x="706" y="0" width="2" height="407"/>
<rect x="661" y="62" width="2" height="1"/>
<rect x="661" y="95" width="2" height="1"/>
<rect x="661" y="128" width="2" height="1"/>
<rect x="661" y="161" width="2" height="1"/>
<rect x="661" y="194" width="2" height="1"/>
<rect x="661" y="227" width="2" height="1"/>
<rect x="661" y="260" width="2" height="1"/>
<rect x="661" y="293" width="2" height="1"/>
<rect x="661" y="326" width="2" height="1"/>
<rect x="661" y="30" width="2" height="1"/>
<rect x="661" y="332" width="2" height="1"/>
</g>
<g font-family="Liberation Sans, sans-serif" font-size="9.2" fill="#fff" stroke="#fff" stroke-width="0.1">
<polygon points="6,8 13,8 9.5,12" fill="#fff"/>
<text transform="translate(18,13) scale(1,1.06)" >LLG,Daily</text>
<text transform="translate(64.0,13) scale(1,1.06)" >2657.29</text>
<text transform="translate(99.7,13) scale(1,1.06)" >2670.26</text>
<text transform="translate(135.4,13) scale(1,1.06)" >2651.62</text>
<text transform="translate(171.1,13) scale(1,1.06)" >2655.66</text>
<text transform="translate(666,66) scale(1,1.06)" >2591.60</text>
<text transform="translate(666,99) scale(1,1.06)" >2525.60</text>
<text transform="translate(666,132) scale(1,1.06)" >2457.60</text>
<text transform="translate(666,165) scale(1,1.06)" >2391.60</text>
<text transform="translate(666,198) scale(1,1.06)" >2323.60</text>
<text transform="translate(666,231) scale(1,1.06)" >2257.60</text>
<text transform="translate(666,264) scale(1,1.06)" >2189.60</text>
<text transform="translate(666,297) scale(1,1.06)" >2123.60</text>
<text transform="translate(666,330) scale(1,1.06)" >2057.60</text>
<rect x="662" y="26" width="41" height="11" fill="#fff" shape-rendering="crispEdges"/>
<text transform="translate(666,35) scale(1,1.06)" fill="#000">2655.66</text>
<text transform="translate(7.2,344) scale(1,1.06)" textLength="127.5" lengthAdjust="spacing">MACD(12,26,9) 43.443 32.819</text>
<text transform="translate(664,342) scale(1,1.06)" >68.711</text>
<text transform="translate(664.3,398) scale(0.8,1.05)">0</text>
<text transform="translate(666.5,400.6) scale(1,1.15)">9.871</text>
</g>
<defs><linearGradient id="gtl" x1="0" y1="1" x2="1" y2="0"><stop offset="0" stop-color="#f0f0f0"/><stop offset="1" stop-color="#8c8c8c"/></linearGradient><linearGradient id="gtr" x1="0" y1="0" x2="1" y2="1"><stop offset="0" stop-color="#909090"/><stop offset="0.5" stop-color="#e8e8e8"/><stop offset="1" stop-color="#a8a8a8"/></linearGradient><linearGradient id="gbl" x1="0" y1="0" x2="1" y2="1"><stop offset="0" stop-color="#e6d040"/><stop offset="1" stop-color="#b89a20"/></linearGradient><linearGradient id="gbr" x1="0" y1="1" x2="1" y2="0"><stop offset="0" stop-color="#d8b830"/><stop offset="1" stop-color="#5a4818"/></linearGradient></defs>
<g>
<polygon points="609.0,385.3 621.7,373.0 621.7,378.2 614.6,385.3" fill="url(#gtl)" />
<polygon points="621.7,373.0 634.4,385.3 628.8,385.3 621.7,378.2" fill="url(#gtr)" />
<polygon points="609.0,385.3 614.6,385.3 621.7,392.4 621.7,397.6" fill="url(#gbl)" />
<polygon points="621.7,397.6 621.7,392.4 628.8,385.3 634.4,385.3" fill="url(#gbr)" />
<polygon points="614.6,385.3 621.7,378.2 628.8,385.3 621.7,392.4" fill="#1a1a1a" />
<polygon points="614.6,385.3 621.7,385.3 628.8,385.3 621.7,392.4" fill="#3a2c10" />
<polygon points="617.2,385.3 621.7,380.8 626.2,385.3 621.7,389.8" fill="none" stroke="#8ccc20" stroke-width="1.3"/>
<polygon points="619.2,385.3 621.7,382.8 624.2,385.3 621.7,387.8" fill="#111" />
<text x="640" y="383.8" font-family="Liberation Sans, sans-serif" font-size="9.2" font-weight="bold" fill="#f4f4f4" textLength="57.5" lengthAdjust="spacingAndGlyphs">SINO SOUND</text>
<rect x="643.5" y="377" width="1" height="1" fill="#7cc030"/>
<rect x="640" y="386" width="8.6" height="7.8" fill="#e6e6e6"/>
<rect x="656.6" y="386" width="8.6" height="7.8" fill="#e6e6e6"/>
<rect x="673" y="386" width="8.6" height="7.8" fill="#e6e6e6"/>
<rect x="689.8" y="386" width="8.6" height="7.8" fill="#e6e6e6"/>
<g fill="#000" opacity="0.55">
<rect x="641.5" y="387.3" width="1" height="1"/><rect x="641.5" y="390" width="1" height="1.2"/><rect x="643.5" y="388.4" width="4" height="0.9"/><rect x="643.5" y="390.4" width="4" height="0.9"/><rect x="642.5" y="392.3" width="1.3" height="1"/><rect x="646" y="392.3" width="1.3" height="1"/>
<rect x="657.8" y="387.5" width="2.5" height="1"/><rect x="661.8" y="387.3" width="2" height="1.2"/><rect x="658" y="389.6" width="5.5" height="0.8"/><rect x="658.5" y="391.4" width="5" height="0.8"/>
<rect x="673" y="386" width="1.4" height="2.5"/><rect x="676" y="387.4" width="4.5" height="0.7"/><rect x="676" y="388.8" width="4.5" height="0.7"/><rect x="673" y="391.5" width="3" height="2.3"/><rect x="679" y="391.5" width="2.6" height="2.3"/>
<rect x="691" y="387.2" width="6.2" height="5.4"/>
</g>
<g fill="#ccc"><rect x="692.2" y="388.2" width="3.5" height="0.9"/><rect x="693.4" y="388.2" width="1" height="3.6"/><rect x="692" y="390.2" width="3.8" height="0.8"/><rect x="692" y="391.5" width="1" height="1"/><rect x="695" y="391.5" width="1" height="1"/></g>
</g>
<rect x="660" y="331" width="1" height="74" fill="#fff" shape-rendering="crispEdges"/>
</svg>
</body></html>
